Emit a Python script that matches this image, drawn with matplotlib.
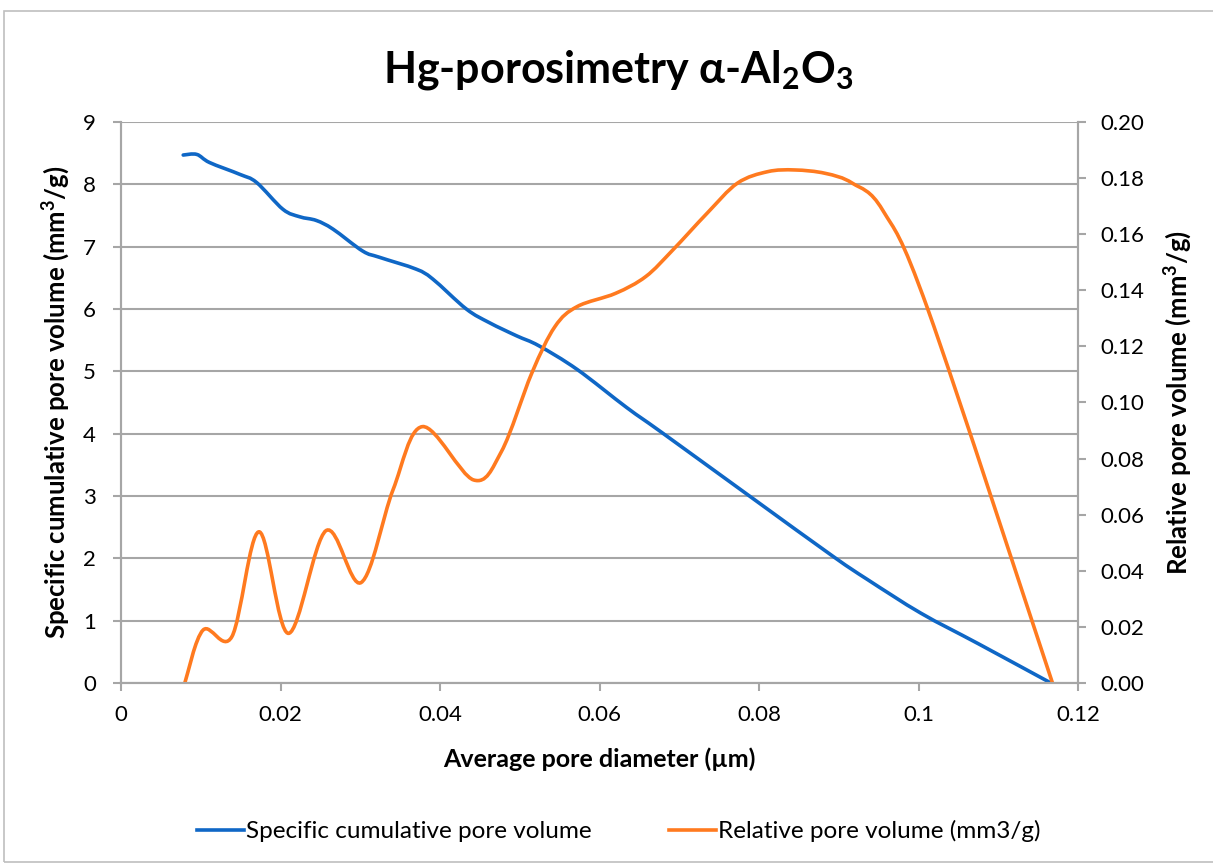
import numpy as np
import matplotlib
matplotlib.use("Agg")
import matplotlib.pyplot as plt
from matplotlib.path import Path
from matplotlib.patches import PathPatch, Rectangle
from matplotlib.lines import Line2D

plt.rcParams['font.family'] = ['Lato', 'DejaVu Sans']

# values
cum_diameter = [0.0078, 0.0095, 0.0111, 0.0149, 0.0170, 0.0203, 0.0224, 0.0245,
                0.0266, 0.0303, 0.0324, 0.0370, 0.0391, 0.0433, 0.0462, 0.0496,
                0.0524, 0.0572, 0.0634, 0.0678, 0.0788, 0.0893, 0.0936, 0.1003,
                0.1075, 0.1166]
cum_volume = [8.47, 8.48, 8.35, 8.16, 8.03, 7.60, 7.48, 7.42,
              7.28, 6.93, 6.83, 6.64, 6.48, 6.00, 5.78, 5.57,
              5.41, 5.03, 4.42, 4.02, 3.00, 2.03, 1.66, 1.12,
              0.63, 0.0]

rel_diameter = [0.0080, 0.0103, 0.0139, 0.0173, 0.0210, 0.0257, 0.0301, 0.0341,
                0.0378, 0.0442, 0.0477, 0.0515, 0.0544, 0.0572, 0.0620,
                0.0658, 0.0692, 0.0735, 0.0773, 0.0811, 0.0845, 0.0883, 0.0917,
                0.0955, 0.1012, 0.1168]
rel_volume = [0.0, 0.0189, 0.0165, 0.0539, 0.0177, 0.0543, 0.0358, 0.0688,
              0.0914, 0.0724, 0.0825, 0.1104, 0.1270, 0.1342, 0.1389,
              0.1449, 0.1544, 0.1675, 0.1782, 0.1823, 0.1829, 0.1817, 0.1782,
              0.1686, 0.1330, 0.0]

x_ticks = [0, 0.02, 0.04, 0.06, 0.08, 0.1, 0.12]
x_tick_labels = ['0', '0.02', '0.04', '0.06', '0.08', '0.1', '0.12']
left_ticks = list(range(0, 10))
right_ticks = [0.00, 0.02, 0.04, 0.06, 0.08, 0.10, 0.12, 0.14, 0.16, 0.18, 0.20]

BLUE = '#0F67C6'
ORANGE = '#FF7A1F'
GRID = '#A6A6A6'
TEXT = '#000000'


def smooth_path(xs, ys):
    """Excel-like smoothed line: Catmull-Rom segments as cubic Bezier curves"""
    p = np.column_stack([xs, ys]).astype(float)
    ext = np.vstack([p[0], p, p[-1]])
    verts = [p[0]]
    codes = [Path.MOVETO]
    for i in range(1, len(ext) - 2):
        c1 = ext[i] + (ext[i + 1] - ext[i - 1]) / 6
        c2 = ext[i + 1] - (ext[i + 2] - ext[i]) / 6
        verts += [c1, c2, ext[i + 1]]
        codes += [Path.CURVE4] * 3
    return Path(verts, codes)


fig = plt.figure(figsize=(12.13, 8.65), dpi=100)
ax = fig.add_axes([121 / 1213, 1 - 683 / 865, (1078 - 121) / 1213, (683 - 122) / 865])
ax2 = ax.twinx()

# chart border
fig.patches.append(Rectangle((4 / 1213, 3 / 865), 1.0, 1 - 14 / 865,
                             transform=fig.transFigure, fill=False,
                             edgecolor='#BFBFBF', linewidth=1.2))

ax.set_xlim(0, 0.12)
ax.set_ylim(0, 9)
ax2.set_ylim(0, 0.20)

ax.set_yticks(left_ticks)
ax.set_xticks(x_ticks)
ax.set_xticklabels(x_tick_labels)
ax2.set_yticks(right_ticks)
ax2.set_yticklabels([f'{v:.2f}' for v in right_ticks])

ax.grid(axis='y', color=GRID, linewidth=1.5)
ax.set_axisbelow(True)

for a in (ax, ax2):
    a.spines['top'].set_visible(False)
    for side in ('left', 'right', 'bottom'):
        a.spines[side].set_color(GRID)
        a.spines[side].set_linewidth(1.5)
    a.tick_params(colors=GRID, labelcolor=TEXT, labelsize=16, length=6, width=1.5)
ax.tick_params(axis='y', pad=12)
ax2.tick_params(axis='y', pad=10)
ax.tick_params(axis='x', pad=10)

ax.add_patch(PathPatch(smooth_path(cum_diameter, cum_volume), fill=False,
                       edgecolor=BLUE, linewidth=2.6, capstyle='round'))
ax2.add_patch(PathPatch(smooth_path(rel_diameter, rel_volume), fill=False,
                        edgecolor=ORANGE, linewidth=2.6, capstyle='round'))

ax.set_xlabel('Average pore diameter (µm)', fontsize=18, fontweight='bold', labelpad=16)
ax.set_ylabel('Specific cumulative pore volume (mm$^\\mathregular{3}$/g)', fontsize=18.5,
              fontweight='bold', labelpad=8)
ax2.set_ylabel('Relative pore volume (mm$^\\mathregular{3}$/g)', fontsize=18.5,
               fontweight='bold', labelpad=12)

fig.text(618 / 1213, 1 - 70 / 865, 'Hg-porosimetry α-Al$_\\mathregular{2}$O$_\\mathregular{3}$',
         ha='center', va='center', fontsize=31, fontweight='bold')

handles = [Line2D([], [], color=BLUE, linewidth=2.6),
           Line2D([], [], color=ORANGE, linewidth=2.6)]
fig.legend(handles, ['Specific cumulative pore volume', 'Relative pore volume (mm3/g)'],
           loc='center', bbox_to_anchor=(619 / 1213, 1 - 831 / 865), ncol=2,
           frameon=False, fontsize=17.5, handlelength=1.9, handletextpad=0.1,
           columnspacing=3.2)

fig.savefig('out.png', dpi=100)
